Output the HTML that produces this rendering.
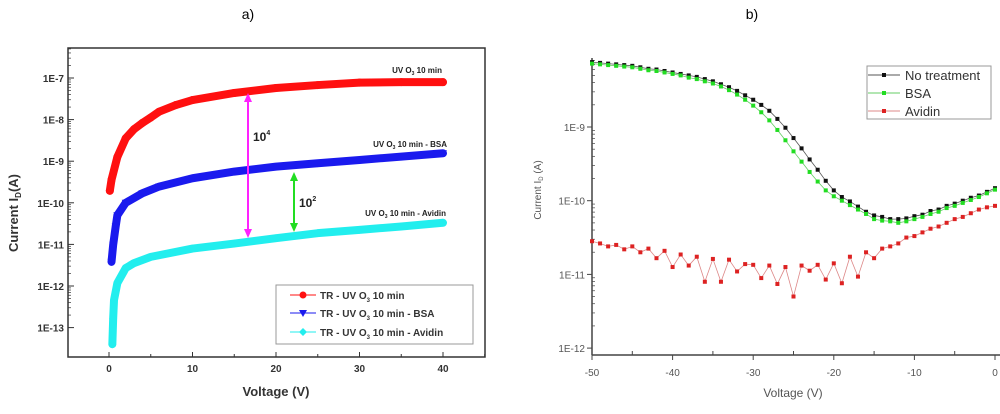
<!DOCTYPE html>
<html><head><meta charset="utf-8"><style>
body{margin:0;background:#fff;width:1000px;height:409px;overflow:hidden}
svg{font-family:"Liberation Sans",sans-serif}
</style></head><body>
<svg id="c" width="1000" height="409">
<text x="248" y="19" font-size="14" text-anchor="middle">a)</text>
<text x="752" y="19" font-size="14" text-anchor="middle">b)</text>
<g id="A"></g>
<g id="B"></g>
</svg>
<script>
// ---- chart a data (log10 of current) ----
const aRedV=[0.1,0.3,1,2,3,4,5,6,8,10,15,20,25,30,35,40];
const aRedY=[-9.71,-9.45,-8.9,-8.45,-8.23,-8.08,-7.95,-7.81,-7.65,-7.53,-7.36,-7.24,-7.17,-7.11,-7.1,-7.1];
const aBlueV=[0.3,0.5,0.8,1,2,4,6,10,15,20,25,30,35,40];
const aBlueY=[-11.42,-11.01,-10.57,-10.3,-10.0,-9.77,-9.61,-9.41,-9.25,-9.13,-9.05,-8.97,-8.89,-8.81];
const aCyanV=[0.4,0.5,0.6,1,2,3,5,10,15,20,25,30,35,40];
const aCyanY=[-13.4,-12.78,-12.34,-11.93,-11.57,-11.45,-11.3,-11.1,-10.98,-10.85,-10.73,-10.65,-10.57,-10.48];
const aXTicks=[0,10,20,30,40];
const aYTicks=[-7,-8,-9,-10,-11,-12,-13];
// ---- chart b data ----
const bV=[-50,-49,-48,-47,-46,-45,-44,-43,-42,-41,-40,-39,-38,-37,-36,-35,-34,-33,-32,-31,-30,-29,-28,-27,-26,-25,-24,-23,-22,-21,-20,-19,-18,-17,-16,-15,-14,-13,-12,-11,-10,-9,-8,-7,-6,-5,-4,-3,-2,-1,0];
const bBlack=[-8.12,-8.13,-8.14,-8.15,-8.16,-8.17,-8.19,-8.21,-8.22,-8.24,-8.26,-8.28,-8.30,-8.32,-8.35,-8.38,-8.42,-8.46,-8.51,-8.57,-8.63,-8.70,-8.78,-8.89,-9.01,-9.15,-9.29,-9.44,-9.58,-9.73,-9.86,-9.95,-10.01,-10.08,-10.15,-10.2,-10.22,-10.25,-10.25,-10.24,-10.21,-10.19,-10.14,-10.12,-10.07,-10.04,-10.0,-9.96,-9.93,-9.88,-9.83];
const bGreen=[-8.14,-8.15,-8.16,-8.17,-8.18,-8.19,-8.21,-8.23,-8.24,-8.26,-8.28,-8.30,-8.33,-8.35,-8.38,-8.41,-8.45,-8.50,-8.56,-8.63,-8.71,-8.80,-8.91,-9.04,-9.18,-9.33,-9.47,-9.61,-9.74,-9.86,-9.94,-10.0,-10.06,-10.12,-10.18,-10.25,-10.27,-10.28,-10.3,-10.28,-10.25,-10.22,-10.18,-10.15,-10.1,-10.07,-10.03,-9.99,-9.95,-9.9,-9.85];
const bRed=[-10.55,-10.58,-10.62,-10.6,-10.66,-10.62,-10.7,-10.65,-10.78,-10.68,-10.9,-10.73,-10.88,-10.76,-11.1,-10.79,-11.1,-10.8,-10.96,-10.86,-10.87,-11.05,-10.88,-11.13,-10.9,-11.3,-10.88,-10.95,-10.87,-11.07,-10.85,-11.12,-10.76,-11.03,-10.7,-10.78,-10.65,-10.62,-10.58,-10.5,-10.48,-10.43,-10.38,-10.35,-10.3,-10.25,-10.22,-10.17,-10.12,-10.09,-10.07];
const bXTicks=[-50,-40,-30,-20,-10,0];
const bYTicks=[-9,-10,-11,-12];

const NS="http://www.w3.org/2000/svg";
function mk(p,tag,at,txt){const e=document.createElementNS(NS,tag);for(const k in at)e.setAttribute(k,at[k]);if(txt!==undefined)e.textContent=txt;p.appendChild(e);return e;}

// ===== Chart A =====
const A=document.getElementById('A');
const ax=v=>109+(v)*8.35, ay=l=>78+(-7-l)*41.6;
let e=mk(A,'rect',{x:68,y:48,width:417,height:309,fill:'none',stroke:'#333','stroke-width':1.5});

aXTicks.forEach(t=>{mk(A,'line',{x1:ax(t),x2:ax(t),y1:357,y2:352,stroke:'#333'});
 e=mk(A,'text',{x:ax(t),y:372,'font-size':10,'font-weight':'bold','text-anchor':'middle',fill:'#333'},t);
 });
[5,15,25,35,-5,45].forEach(t=>{if(ax(t)>68&&ax(t)<485)mk(A,'line',{x1:ax(t),x2:ax(t),y1:357,y2:354,stroke:'#333'});});
aYTicks.forEach(t=>{mk(A,'line',{x1:68,x2:74,y1:ay(t),y2:ay(t),stroke:'#333'});
 for(let m=2;m<10;m++){const yy=ay(t+Math.log10(m));if(yy>48&&yy<357)mk(A,'line',{x1:68,x2:71,y1:yy,y2:yy,stroke:'#333','stroke-width':.7});}
 e=mk(A,'text',{x:64,y:ay(t)+4,'font-size':10,'font-weight':'bold','text-anchor':'end',fill:'#333'},'1E'+t);
 });
e=mk(A,'text',{x:276,y:396,'font-size':13,'font-weight':'bold','text-anchor':'middle',fill:'#333'},'Voltage (V)');

e=mk(A,'text',{x:0,y:0,'font-size':13,'font-weight':'bold','text-anchor':'middle',fill:'#333',transform:'translate(18,213) rotate(-90)'});
e.innerHTML='Current  I<tspan font-size="8" dy="3">D</tspan><tspan dy="-3">(A)</tspan>';

function seriesA(V,Y,col,name,shape){
 const g=mk(A,'g',{});
 const pts=V.map((v,i)=>ax(v)+','+ay(Y[i])).join(' ');
 mk(g,'polyline',{points:pts,fill:'none',stroke:col,'stroke-width':8,'stroke-linejoin':'round','stroke-linecap':'round'});
 V.forEach((v,i)=>{const x=ax(v),y=ay(Y[i]);
  if(shape==='c')mk(g,'circle',{cx:x,cy:y,r:4,fill:col});
  else if(shape==='t')mk(g,'path',{d:`M${x-4},${y-3}L${x+4},${y-3}L${x},${y+4}Z`,fill:col});
  else mk(g,'path',{d:`M${x},${y-4}L${x+4},${y}L${x},${y+4}L${x-4},${y}Z`,fill:col});});
}
seriesA(aRedV,aRedY,'#ff1010','series-uv-o3','c');
seriesA(aBlueV,aBlueY,'#1a1aee','series-uv-o3-bsa','t');
seriesA(aCyanV,aCyanY,'#22eeee','series-uv-o3-avidin','d');
function arrow(x,y1,y2,col,name){const g=mk(A,'g',{});
 mk(g,'line',{x1:x,x2:x,y1:y1+6,y2:y2-6,stroke:col,'stroke-width':2});
 mk(g,'path',{d:`M${x-4},${y1+9}L${x},${y1}L${x+4},${y1+9}Z`,fill:col});
 mk(g,'path',{d:`M${x-4},${y2-9}L${x},${y2}L${x+4},${y2-9}Z`,fill:col});}
arrow(248,93,238,'#ff22ff','arrow-10e4');
arrow(294,172,232,'#22dd22','arrow-10e2');
e=mk(A,'text',{x:253,y:141,'font-size':12,'font-weight':'bold',fill:'#222'});e.innerHTML='10<tspan font-size="7" dy="-6">4</tspan>';

e=mk(A,'text',{x:299,y:207,'font-size':12,'font-weight':'bold',fill:'#222'});e.innerHTML='10<tspan font-size="7" dy="-6">2</tspan>';

[['UV O','10 min',442,73],['UV O','10 min - BSA',447,147],['UV O','10 min - Avidin',446,216]].forEach(a=>{
 e=mk(A,'text',{x:a[2],y:a[3],'font-size':8,'font-weight':'bold','text-anchor':'end',fill:'#222'});
 e.innerHTML=a[0]+'<tspan font-size="5" dy="2">3</tspan><tspan dy="-2"> '+a[1]+'</tspan>';
 });
const lg=mk(A,'g',{});
mk(lg,'rect',{x:276,y:285,width:197,height:59,fill:'#fff',stroke:'#999','stroke-width':1});
[['#ff1010','c','10 min',295],['#1a1aee','t','10 min - BSA',313],['#22eeee','d','10 min - Avidin',332]].forEach(r=>{
 const g=mk(lg,'g',{});
 mk(g,'line',{x1:290,x2:316,y1:r[3],y2:r[3],stroke:r[0],'stroke-width':1});
 const x=303,y=r[3];
 if(r[1]==='c')mk(g,'circle',{cx:x,cy:y,r:3.5,fill:r[0]});
 else if(r[1]==='t')mk(g,'path',{d:`M${x-4},${y-3}L${x+4},${y-3}L${x},${y+4}Z`,fill:r[0]});
 else mk(g,'path',{d:`M${x},${y-4}L${x+4},${y}L${x},${y+4}L${x-4},${y}Z`,fill:r[0]});
 const t=mk(g,'text',{x:320,y:y+4,'font-size':10,'font-weight':'bold',fill:'#333'});
 t.innerHTML='TR - UV O<tspan font-size="6" dy="3">3</tspan><tspan dy="-3"> '+r[2]+'</tspan>';});

// ===== Chart B =====
const B=document.getElementById('B');
const bx=v=>995+v*8.06, by=l=>127+(-9-l)*73.7;
mk(B,'line',{x1:592,x2:592,y1:58,y2:355,stroke:'#444','stroke-width':1.5});
mk(B,'line',{x1:592,x2:1000,y1:355,y2:355,stroke:'#444','stroke-width':1.5});
bXTicks.forEach(t=>{mk(B,'line',{x1:bx(t),x2:bx(t),y1:355,y2:360,stroke:'#444'});
 e=mk(B,'text',{x:bx(t),y:376,'font-size':10,'text-anchor':'middle',fill:'#555'},t);
 });
[-45,-35,-25,-15,-5].forEach(t=>mk(B,'line',{x1:bx(t),x2:bx(t),y1:355,y2:351,stroke:'#444'}));
bYTicks.forEach(t=>{mk(B,'line',{x1:587,x2:592,y1:by(t),y2:by(t),stroke:'#444'});
 for(let m=2;m<10;m++){const yy=by(t+Math.log10(m));if(yy>58&&yy<355)mk(B,'line',{x1:592,x2:595,y1:yy,y2:yy,stroke:'#444','stroke-width':.7});}
 e=mk(B,'text',{x:585,y:by(t)+4,'font-size':10,'text-anchor':'end',fill:'#555'},'1E'+t);
 });
e=mk(B,'text',{x:793,y:397,'font-size':12,'text-anchor':'middle',fill:'#555'},'Voltage (V)');

e=mk(B,'text',{x:0,y:0,'font-size':10,'text-anchor':'middle',fill:'#555',transform:'translate(541,190) rotate(-90)'});
e.innerHTML='Current I<tspan font-size="6" dy="2">D</tspan><tspan dy="-2"> (A)</tspan>';

function seriesB(Y,col,lc,name){const g=mk(B,'g',{});
 mk(g,'polyline',{points:bV.map((v,i)=>bx(v)+','+by(Y[i])).join(' '),fill:'none',stroke:lc,'stroke-width':.8});
 bV.forEach((v,i)=>mk(g,'rect',{x:bx(v)-2,y:by(Y[i])-2,width:4,height:4,fill:col}));}
seriesB(bBlack,'#111','#555','series-no-treatment');
seriesB(bGreen,'#22dd22','#6c6','series-bsa');
seriesB(bRed,'#dd2222','#d88','series-avidin');
const lb=mk(B,'g',{});
mk(lb,'rect',{x:867,y:66,width:124,height:53,fill:'#fff',stroke:'#999'});
[['#111','#555','No treatment',75],['#22dd22','#6c6','BSA',93],['#dd2222','#d88','Avidin',111]].forEach(r=>{
 const g=mk(lb,'g',{});
 mk(g,'line',{x1:868,x2:900,y1:r[3],y2:r[3],stroke:r[1]});
 mk(g,'rect',{x:882,y:r[3]-2,width:4,height:4,fill:r[0]});
 mk(g,'text',{x:905,y:r[3]+5,'font-size':13,fill:'#333'},r[2]);});
</script>
</body></html>
